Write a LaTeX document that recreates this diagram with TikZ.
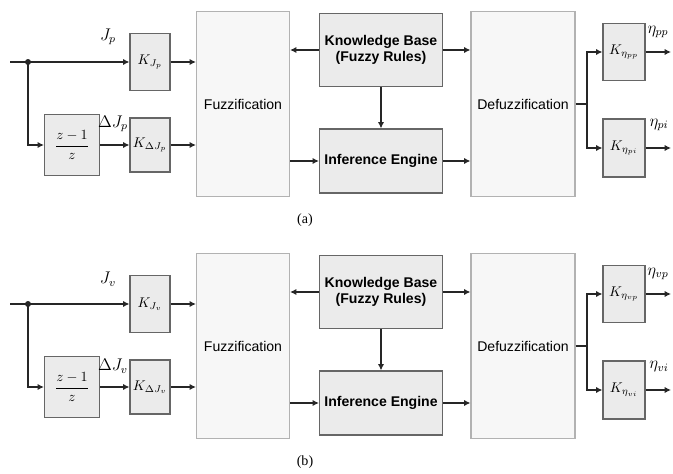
\documentclass[tikz,border=0pt]{standalone}
\usepackage{amsmath}
\usepackage{fontspec}
\setmainfont{Liberation Sans}
\newfontfamily\capfont{Liberation Serif}
\usetikzlibrary{arrows.meta}

\tikzset{
  gain/.style={draw=black!60, fill=black!8, line width=0.8pt, inner sep=0pt},
  stage/.style={draw=black!30, fill=black!3, line width=0.8pt, inner sep=0pt,
    minimum height=4.625cm, font=\fontsize{10}{12}\selectfont},
  rulebox/.style={draw=black!60, fill=black!8, line width=0.8pt, inner sep=0pt,
    minimum width=3.075cm, align=center, font=\fontsize{10}{11.5}\selectfont\bfseries},
  sig/.style={line width=1.1pt, black!85, -{Latex[length=4.5pt,width=4.5pt]}},
  wire/.style={line width=1.1pt, black!85},
  tag/.style={font=\large},
}

\begin{document}
\begin{tikzpicture}[x=0.025cm, y=-0.025cm]
\useasboundingbox (0,0) rectangle (673,474);

\foreach \pn/\yo/\s in {a/0/p, b/242/v} {
\begin{scope}[shift={(0,\yo)}]
% gains and delay
\node[gain, minimum width=1cm, minimum height=1.425cm] (KJ\pn) at (150,62) {$K_{J_\s}$};
\node[gain, minimum width=1.375cm, minimum height=1.525cm] (dz\pn) at (72,145) {$\dfrac{z-1}{z}$};
\node[gain, minimum width=1cm, minimum height=1.35cm] (KdJ\pn) at (150,145) {$K_{\Delta J_\s}$};
% fuzzy blocks
\node[stage, minimum width=2.325cm] (fz\pn) at (243,104) {Fuzzification};
\node[rulebox, minimum height=1.825cm] (kb\pn) at (381,50) {Knowledge Base\\(Fuzzy Rules)};
\node[rulebox, minimum height=1.6cm] (ie\pn) at (381,161) {Inference Engine};
\node[stage, minimum width=2.6cm] (dfz\pn) at (523,104) {Defuzzification};
% output gains
\node[gain, minimum width=1.05cm, minimum height=1.425cm] (KEp\pn) at (624,52) {$K_{\eta_{\s p}}$};
\node[gain, minimum width=1.05cm, minimum height=1.45cm] (KEi\pn) at (624,148) {$K_{\eta_{\s i}}$};

\coordinate (in\pn) at (10,62);
\coordinate (jn\pn) at (28,62);
\coordinate (br\pn) at (587,104);
\coordinate (op\pn) at (671,52);
\coordinate (oi\pn) at (671,148);

\draw[wire] (in\pn) -- (jn\pn);
\draw[sig] (jn\pn) -- (KJ\pn.west);
\draw[sig] (jn\pn) |- (dz\pn.west);
\fill[black!85] (jn\pn) circle (3);
\draw[sig] (dz\pn.east) -- (KdJ\pn.west);
\draw[sig] (KJ\pn.east) -- (KJ\pn.east -| fz\pn.west);
\draw[sig] (KdJ\pn.east) -- (KdJ\pn.east -| fz\pn.west);
\draw[sig] (kb\pn.west) -- (kb\pn.west -| fz\pn.east);
\draw[sig] (kb\pn.south) -- (ie\pn.north);
\draw[sig] (ie\pn.west -| fz\pn.east) -- (ie\pn.west);
\draw[sig] (kb\pn.east) -- (kb\pn.east -| dfz\pn.west);
\draw[sig] (ie\pn.east) -- (ie\pn.east -| dfz\pn.west);
\draw[wire] (dfz\pn.east) -- (br\pn);
\draw[sig] (br\pn) |- (KEp\pn.west);
\draw[sig] (br\pn) |- (KEi\pn.west);
\draw[sig] (KEp\pn.east) -- (op\pn);
\draw[sig] (KEi\pn.east) -- (oi\pn);

\node[tag] at (108,37) {$J_\s$};
\node[tag] at (113,124) {$\Delta J_\s$};
\node[tag] at (658,32) {$\eta_{\s p}$};
\node[tag] at (659,125) {$\eta_{\s i}$};
\end{scope}
}

\node[font=\capfont] (capa) at (305,220) {(a)};
\node[font=\capfont] (capb) at (305,462) {(b)};
\end{tikzpicture}
\end{document}
